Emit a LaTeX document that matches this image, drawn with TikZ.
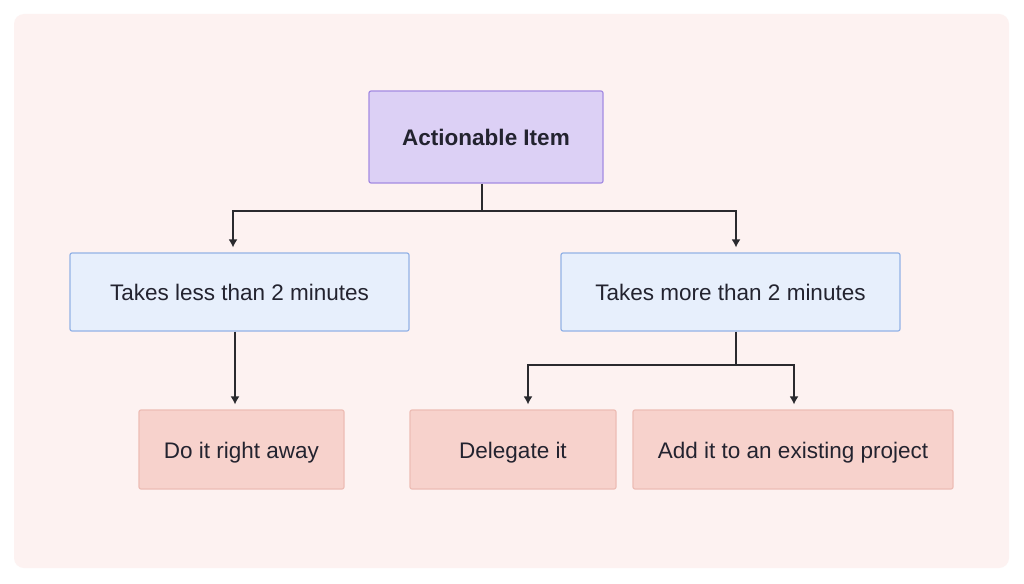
\documentclass[tikz,border=0pt]{standalone}
\usepackage{fontspec}
\setmainfont{Liberation Sans}
\usetikzlibrary{arrows.meta}
\definecolor{bgpanel}{HTML}{FDF2F1}
\definecolor{purplefill}{HTML}{DCD0F5}
\definecolor{purpleline}{HTML}{A48BE2}
\definecolor{bluefill}{HTML}{E7EFFC}
\definecolor{blueline}{HTML}{93B2E6}
\definecolor{pinkfill}{HTML}{F7D2CC}
\definecolor{pinkline}{HTML}{EDBDB5}
\definecolor{txt}{HTML}{23232F}
\definecolor{arrowc}{HTML}{2A2A2E}
\tikzset{
  box/.style={draw, line width=1.2pt, rounded corners=2pt, inner sep=0pt, text=txt, font=\fontsize{22.5}{27}\selectfont, text depth=0pt, text height=17.5pt},
  purplebox/.style={box, fill=purplefill, draw=purpleline, minimum width=234pt, minimum height=92pt},
  bluebox/.style={box, fill=bluefill, draw=blueline, minimum width=339pt, minimum height=78pt},
  pinkbox/.style={box, fill=pinkfill, draw=pinkline, minimum height=79pt},
  conn/.style={draw=arrowc, line width=1.4pt},
  arr/.style={conn, -{Latex[length=8pt,width=9pt]}, shorten >=5pt}
}
\begin{document}
\begin{tikzpicture}[x=1pt,y=-1pt]
\useasboundingbox (0,0) rectangle (1024,583);
\fill[white] (0,0) rectangle (1024,583);
\fill[bgpanel, rounded corners=10pt] (14,14) rectangle (1009,568);

\node[purplebox] (root) at (486,137) {\bfseries Actionable Item};
\node[bluebox] (less) at (239.5,292) {Takes less than 2 minutes};
\node[bluebox] (more) at (730.5,292) {Takes more than 2 minutes};
\node[pinkbox, minimum width=205pt] (now) at (241.5,449.5) {Do it right away};
\node[pinkbox, minimum width=206pt] (deleg) at (513,449.5) {Delegate it};
\node[pinkbox, minimum width=320pt] (proj) at (793,449.5) {Add it to an existing project};

\coordinate (j1) at (482,211);
\coordinate (j1l) at (233,211);
\coordinate (j1r) at (736,211);
\draw[conn] (root.south -| j1) -- (j1);
\draw[arr] (j1) -- (j1l) -- (j1l |- less.north);
\draw[arr] (j1) -- (j1r) -- (j1r |- more.north);

\coordinate (a2) at (235,331);
\draw[arr] (a2 |- less.south) -- (a2 |- now.north);

\coordinate (j2) at (736,365);
\coordinate (j2l) at (528,365);
\coordinate (j2r) at (794,365);
\draw[conn] (more.south -| j2) -- (j2);
\draw[arr] (j2) -- (j2l) -- (j2l |- deleg.north);
\draw[arr] (j2) -- (j2r) -- (j2r |- proj.north);
\end{tikzpicture}
\end{document}
